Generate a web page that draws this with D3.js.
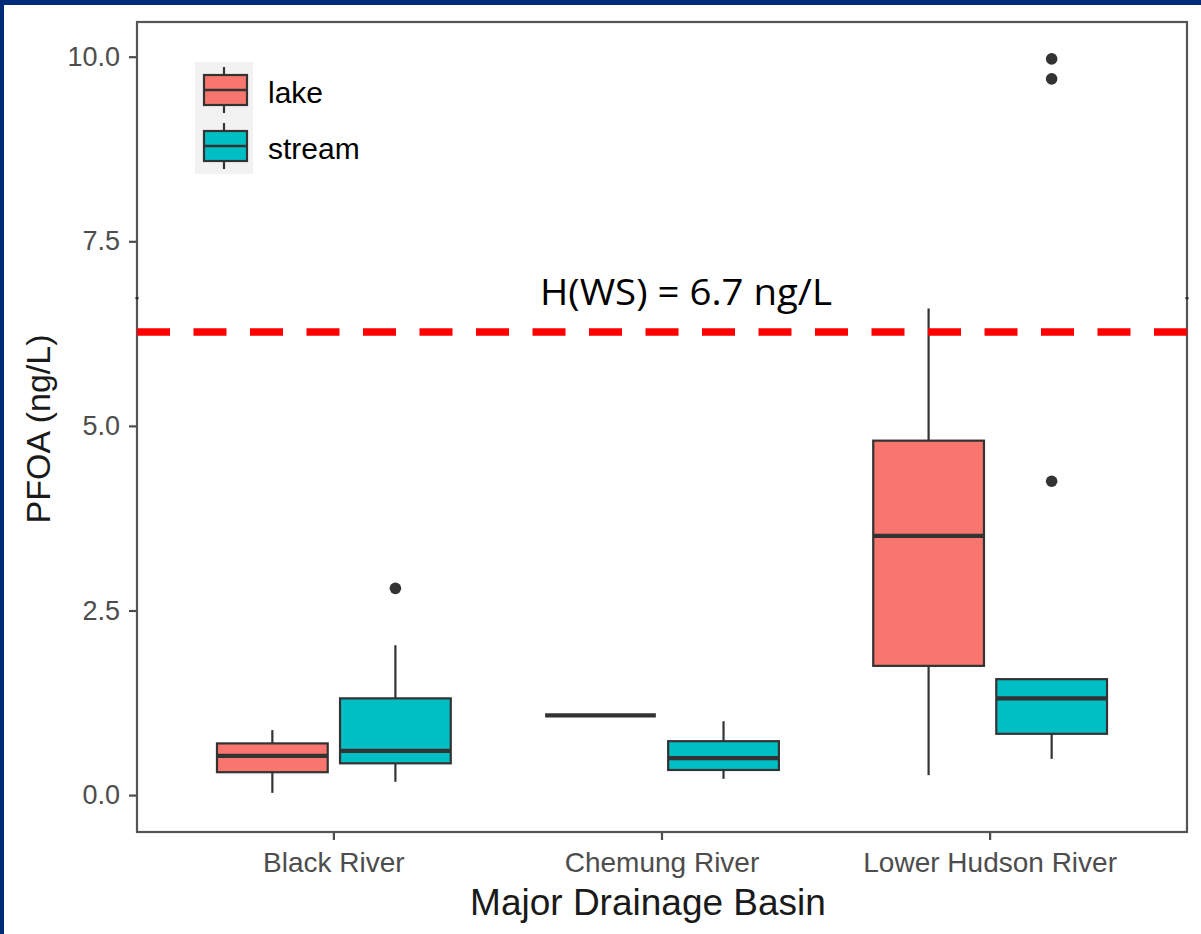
<!DOCTYPE html>
<html>
<head>
<meta charset="utf-8">
<script src="https://cdn.jsdelivr.net/npm/d3@7/dist/d3.min.js"></script>
<style>
  html, body { margin: 0; padding: 0; background: #ffffff; }
  svg { display: block; }
</style>
</head>
<body>
<svg id="chart" width="1201" height="934"></svg>
<script>
// ---------------- data ----------------
const categories = ["Black River", "Chemung River", "Lower Hudson River"];
const series = ["lake", "stream"];
const seriesColors = ["#F8766D", "#00BFC4"];
// [lower whisker, Q1, median, Q3, upper whisker]
const lakeStats = [
  [0.03, 0.31, 0.53, 0.70, 0.88],
  [1.08, 1.08, 1.08, 1.08, 1.08],
  [0.27, 1.75, 3.51, 4.80, 6.59]
];
const streamStats = [
  [0.18, 0.43, 0.60, 1.31, 2.03],
  [0.22, 0.34, 0.50, 0.73, 1.00],
  [0.49, 0.83, 1.31, 1.57, 1.57]
];
const lakeOutliers = [[], [], []];
const streamOutliers = [[2.80], [], [4.25, 9.70, 9.97]];
const yTicks = [0, 2.5, 5.0, 7.5, 10.0];
const yDomain = [-0.5, 10.47];
const thresholdValue = 6.27;
const thresholdLabel = "H(WS) = 6.7 ng/L";
const originalLineValue = 6.73;
const xTitle = "Major Drainage Basin";
const yTitle = "PFOA (ng/L)";

// ---------------- layout ----------------
const svg = d3.select("#chart");
const W = 1201, H = 934;
const panel = { left: 137, right: 1187, top: 22, bottom: 832 };

// dark blue frame (top and left edges)
svg.append("rect").attr("x", 0).attr("y", 0).attr("width", W).attr("height", H).attr("fill", "#ffffff");
svg.append("rect").attr("x", 0).attr("y", 0).attr("width", W).attr("height", 5).attr("fill", "#012b76");
svg.append("rect").attr("x", 0).attr("y", 0).attr("width", 4).attr("height", H).attr("fill", "#012b76");

const y = d3.scaleLinear().domain(yDomain).range([panel.bottom, panel.top]);
const x = d3.scaleBand().domain(categories).range([panel.left, panel.right]).paddingInner(0).paddingOuter(0.1);
const step = x.bandwidth();
const xs = d3.scaleBand().domain(series).range([-0.375 * step, 0.375 * step]);
const boxW = xs.bandwidth() * 0.9;

const statsBySeries = { lake: lakeStats, stream: streamStats };
const outliersBySeries = { lake: lakeOutliers, stream: streamOutliers };
const colorOf = d3.scaleOrdinal().domain(series).range(seriesColors);

// ---------------- axes ----------------
const tickColor = "#4d4d4d";
const yAxis = svg.append("g")
  .attr("transform", `translate(${panel.left},0)`)
  .call(d3.axisLeft(y).tickValues(yTicks).tickFormat(d3.format(".1f")).tickSize(8).tickPadding(9));
yAxis.select(".domain").remove();
yAxis.selectAll(".tick line").attr("stroke", tickColor).attr("stroke-width", 2.2);
yAxis.selectAll(".tick text")
  .attr("fill", tickColor)
  .style("font-family", "'Liberation Sans', Arial, sans-serif")
  .style("font-size", "27px");

const xAxis = svg.append("g")
  .attr("transform", `translate(0,${panel.bottom})`)
  .call(d3.axisBottom(x).tickSize(8).tickPadding(12));
xAxis.select(".domain").remove();
xAxis.selectAll(".tick line").attr("stroke", tickColor).attr("stroke-width", 2.2);
xAxis.selectAll(".tick text")
  .attr("fill", tickColor)
  .style("font-family", "'Liberation Sans', Arial, sans-serif")
  .style("font-size", "28px");

// axis titles
svg.append("text")
  .attr("x", 648)
  .attr("y", 915)
  .attr("text-anchor", "middle")
  .attr("fill", "#1a1a1a")
  .style("font-family", "'Liberation Sans', Arial, sans-serif")
  .style("font-size", "37px")
  .text(xTitle);

svg.append("text")
  .attr("transform", `translate(50,${(panel.top + panel.bottom) / 2 + 2}) rotate(-90)`)
  .attr("text-anchor", "middle")
  .attr("fill", "#1a1a1a")
  .style("font-family", "'Liberation Sans', Arial, sans-serif")
  .style("font-size", "34px")
  .text(yTitle);

// ---------------- boxes ----------------
const boxStroke = "#333333";
const groups = [];
categories.forEach((c, i) => {
  series.forEach(s => {
    groups.push({ cat: c, ser: s, stats: statsBySeries[s][i], out: outliersBySeries[s][i] });
  });
});

const g = svg.append("g");
groups.forEach(d => {
  const center = x(d.cat) + step / 2 + xs(d.ser) + xs.bandwidth() / 2;
  const [lo, q1, med, q3, hi] = d.stats;
  const gg = g.append("g");
  // whiskers
  gg.append("line")
    .attr("x1", center).attr("x2", center)
    .attr("y1", y(hi)).attr("y2", y(q3))
    .attr("stroke", boxStroke).attr("stroke-width", 2.2);
  gg.append("line")
    .attr("x1", center).attr("x2", center)
    .attr("y1", y(q1)).attr("y2", y(lo))
    .attr("stroke", boxStroke).attr("stroke-width", 2.2);
  // box
  if (y(q1) - y(q3) > 0.5) {
    gg.append("rect")
      .attr("x", center - boxW / 2)
      .attr("y", y(q3))
      .attr("width", boxW)
      .attr("height", y(q1) - y(q3))
      .attr("fill", colorOf(d.ser))
      .attr("stroke", boxStroke)
      .attr("stroke-width", 2.2);
  }
  // median
  gg.append("line")
    .attr("x1", center - boxW / 2).attr("x2", center + boxW / 2)
    .attr("y1", y(med)).attr("y2", y(med))
    .attr("stroke", boxStroke).attr("stroke-width", 4.2);
  // outliers
  gg.selectAll("circle").data(d.out).enter().append("circle")
    .attr("cx", center)
    .attr("cy", v => y(v))
    .attr("r", 5.8)
    .attr("fill", boxStroke);
});

// ---------------- panel border ----------------
svg.append("rect")
  .attr("x", panel.left).attr("y", panel.top)
  .attr("width", panel.right - panel.left)
  .attr("height", panel.bottom - panel.top)
  .attr("fill", "none")
  .attr("stroke", "#555555")
  .attr("stroke-width", 2.2);

// remnants of the original reference line at the panel edges
[panel.left, panel.right].forEach(px => {
  svg.append("line")
    .attr("x1", px - 1.5).attr("x2", px + 1.5)
    .attr("y1", y(originalLineValue)).attr("y2", y(originalLineValue))
    .attr("stroke", "#222").attr("stroke-width", 2);
});

// ---------------- threshold line ----------------
svg.append("line")
  .attr("x1", panel.left).attr("x2", panel.right)
  .attr("y1", y(thresholdValue)).attr("y2", y(thresholdValue))
  .attr("stroke", "#ff0000")
  .attr("stroke-width", 7.5)
  .attr("stroke-dasharray", "33 23.5");

svg.append("text")
  .attr("x", 686)
  .attr("y", 305)
  .attr("text-anchor", "middle")
  .attr("fill", "#000000")
  .attr("textLength", 292)
  .attr("lengthAdjust", "spacingAndGlyphs")
  .style("font-family", "'Open Sans', 'Noto Sans', sans-serif")
  .style("font-size", "37px")
  .text(thresholdLabel);

// ---------------- legend ----------------
const legend = svg.append("g");
const keyX = 195, keyTop = 62, keyW = 58, keyH = 56;
legend.append("rect")
  .attr("x", keyX).attr("y", keyTop)
  .attr("width", keyW).attr("height", keyH * series.length)
  .attr("fill", "#f2f2f2");
series.forEach((s, i) => {
  const top = keyTop + i * keyH;
  const cx = keyX + 29;
  legend.append("line")
    .attr("x1", cx).attr("x2", cx)
    .attr("y1", top + 5).attr("y2", top + 51)
    .attr("stroke", boxStroke).attr("stroke-width", 2.2);
  legend.append("rect")
    .attr("x", keyX + 9).attr("y", top + 13)
    .attr("width", 43).attr("height", 30)
    .attr("fill", colorOf(s))
    .attr("stroke", boxStroke).attr("stroke-width", 2.2);
  legend.append("line")
    .attr("x1", keyX + 9).attr("x2", keyX + 52)
    .attr("y1", top + 28).attr("y2", top + 28)
    .attr("stroke", boxStroke).attr("stroke-width", 2.5);
  legend.append("text")
    .attr("x", 268)
    .attr("y", top + 41)
    .attr("fill", "#000000")
    .style("font-family", "'Liberation Sans', Arial, sans-serif")
    .style("font-size", "30px")
    .text(s);
});
</script>
</body>
</html>
